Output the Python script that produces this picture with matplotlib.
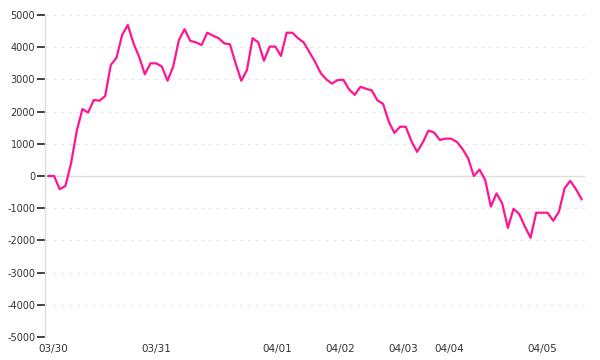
import matplotlib
matplotlib.use("Agg")
import matplotlib.pyplot as plt

# values, one per sample
values = [
    0, 0, -410, -310, 400, 1400, 2080, 1970, 2360, 2340,
    2480, 3450, 3670, 4380, 4690, 4120, 3700, 3160, 3500, 3500,
    3400, 2960, 3400, 4220, 4560, 4200, 4150, 4070, 4450, 4360,
    4280, 4120, 4090, 3500, 2960, 3290, 4280, 4150, 3580, 4020,
    4020, 3730, 4450, 4450, 4280, 4150, 3850, 3550, 3200, 3000,
    2870, 2980, 2990, 2690, 2520, 2770, 2710, 2660, 2350, 2240,
    1690, 1340, 1530, 1530, 1080, 750, 1040, 1410, 1350, 1120,
    1160, 1160, 1060, 840, 550, 0, 200, -120, -950, -540,
    -850, -1610, -1020, -1180, -1570, -1920, -1140, -1140, -1140, -1390,
    -1110, -380, -150, -410, -720,
]
tick_labels = ["03/30", "03/31", "04/01", "04/02", "04/03", "04/04", "04/05"]
tick_pos = [0.9, 19.1, 40.3, 51.5, 62.6, 70.7, 87.0]
y_ticks = [-5000, -4000, -3000, -2000, -1000, 0, 1000, 2000, 3000, 4000, 5000]

fig = plt.figure(figsize=(6, 3.6), dpi=100)
ax = fig.add_axes([0.075, 0.0639, 0.9, 0.8944])

x = list(range(len(values)))
ax.plot(x, values, color="#ff1493", linewidth=1.6, zorder=3)

ax.set_xlim(-0.6, 94.6)
ax.set_ylim(-5000, 5000)

for v in y_ticks:
    if v == 0:
        ax.axhline(0, color="#dddddd", linewidth=1, zorder=1)
    else:
        ax.axhline(v, color="#e8e8e8", linewidth=0.8, linestyle=(0, (3, 4)), zorder=1)

for side in ["top", "right", "bottom"]:
    ax.spines[side].set_visible(False)
ax.spines["left"].set_color("#dddddd")
ax.spines["left"].set_linewidth(1)

ax.set_yticks(y_ticks)
ax.set_yticklabels([str(v) for v in y_ticks])
ax.set_xticks(tick_pos)
ax.set_xticklabels(tick_labels)

ax.yaxis.set_tick_params(length=6, width=1.2, color="#222222", labelsize=7,
                         labelcolor="#333333", pad=1)
ax.xaxis.set_tick_params(length=0, labelsize=7.5, labelcolor="#333333", pad=5)
for t in ax.yaxis.get_major_ticks():
    t.tick1line.set_color("#222222")
    t.tick1line.set_zorder(5)

fig.savefig("out.png", dpi=100)
plt.close(fig)
